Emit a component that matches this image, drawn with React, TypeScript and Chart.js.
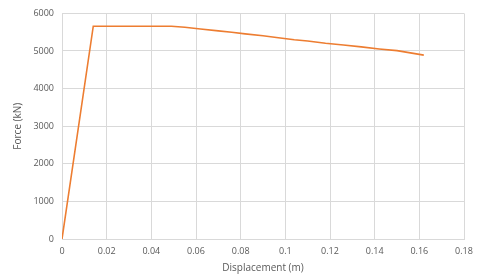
import React, { useEffect, useRef } from "react";
import { Chart, registerables } from "chart.js";

Chart.register(...registerables);

const displacement = [0, 0.014, 0.049, 0.055, 0.062, 0.07, 0.076, 0.082, 0.09, 0.096, 0.104, 0.11, 0.118, 0.126, 0.134, 0.142, 0.15, 0.156, 0.162];
const force = [0, 5660, 5660, 5630, 5585, 5535, 5500, 5455, 5405, 5360, 5300, 5265, 5205, 5160, 5110, 5055, 5010, 4950, 4890];

const xTicks = [0, 0.02, 0.04, 0.06, 0.08, 0.1, 0.12, 0.14, 0.16, 0.18];
const yTicks = [0, 1000, 2000, 3000, 4000, 5000, 6000];

const FONT = "'Open Sans', 'Liberation Sans', sans-serif";
const TEXT = "#595959";
const GRID = "#d9d9d9";

export default function App() {
  const ref = useRef<HTMLCanvasElement | null>(null);
  useEffect(() => {
    if (!ref.current) return;
    const chart = new Chart(ref.current, {
      type: "scatter",
      data: {
        datasets: [
          {
            data: displacement.map((x, i) => ({ x, y: force[i] })),
            showLine: true,
            borderColor: "#ED7D31",
            backgroundColor: "#ED7D31",
            borderWidth: 1.6,
            pointRadius: 0,
            tension: 0,
          },
        ],
      },
      options: {
        animation: false,
        responsive: false,
        maintainAspectRatio: false,
        layout: { padding: { top: 7, right: 16, left: 0, bottom: 0 } },
        plugins: { legend: { display: false }, tooltip: { enabled: false } },
        scales: {
          x: {
            type: "linear",
            min: 0,
            max: 0.18,
            afterBuildTicks: (s: any) => {
              s.ticks = xTicks.map((v) => ({ value: v }));
            },
            afterFit: (s: any) => {
              s.height = 35;
            },
            ticks: {
              color: TEXT,
              font: { family: FONT, size: 9 },
              padding: 7,
              maxRotation: 0,
              callback: (v: any) => String(Number(v)),
            },
            grid: { color: GRID, lineWidth: 1, drawTicks: false },
            border: { color: GRID },
            title: {
              display: true,
              text: "Displacement (m)",
              color: TEXT,
              font: { family: FONT, size: 10 },
              padding: { top: 1, bottom: 0 },
            },
          },
          y: {
            type: "linear",
            min: 0,
            max: 6000,
            afterBuildTicks: (s: any) => {
              s.ticks = yTicks.map((v) => ({ value: v }));
            },
            afterFit: (s: any) => {
              s.width = 62;
            },
            ticks: {
              color: TEXT,
              font: { family: FONT, size: 9 },
              padding: 8,
              callback: (v: any) => String(v),
            },
            grid: { color: GRID, lineWidth: 1, drawTicks: false },
            border: { color: GRID },
            title: {
              display: true,
              text: "Force (kN)",
              color: TEXT,
              font: { family: FONT, size: 10 },
              padding: { top: 12, bottom: 4 },
            },
          },
        },
      },
    });
    return () => chart.destroy();
  }, []);
  return (
    <div style={{ position: "absolute", left: 0, top: 0, width: 480, height: 274, background: "#fff" }}>
      <canvas ref={ref} width={480} height={274} style={{ width: 480, height: 274 }} />
    </div>
  );
}
